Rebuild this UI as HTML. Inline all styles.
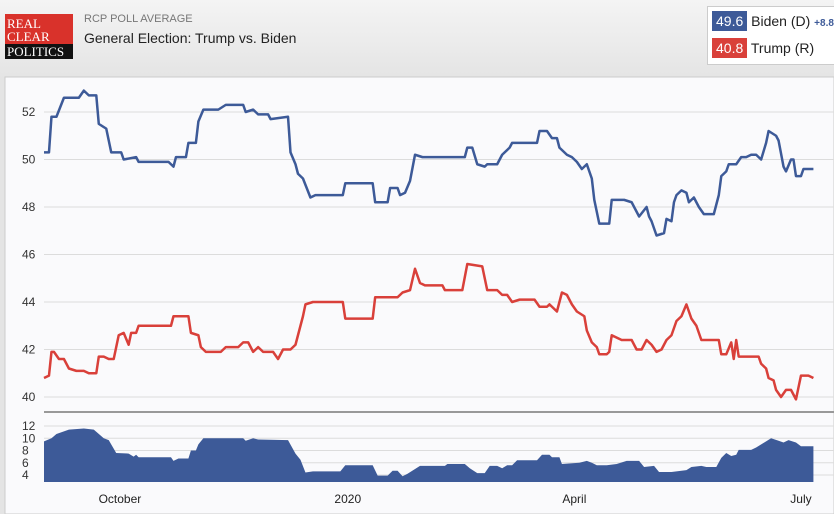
<!DOCTYPE html>
<html><head><meta charset="utf-8"><style>
body{margin:0;width:834px;height:514px;overflow:hidden;font-family:"Liberation Sans",sans-serif;background:linear-gradient(#f4f4f4,#e4e4e4 80px,#e4e4e4);position:relative}
.abs{position:absolute}
</style></head><body>
<div class="abs" style="left:5px;top:14px;width:68px;height:45px;">
 <div style="position:absolute;left:0;top:0;width:68px;height:30px;background:#d9322b;color:#fff;font-family:'Liberation Serif',serif;font-size:13px;line-height:13px;padding:3px 0 0 2px;box-sizing:border-box">REAL<br>CLEAR</div>
 <div style="position:absolute;left:0;top:30px;width:68px;height:15px;background:#111;color:#fff;font-family:'Liberation Serif',serif;font-size:13px;line-height:15px;padding-left:2px;box-sizing:border-box">POLITICS</div>
</div>
<div class="abs" style="left:84px;top:13px;font-size:11px;color:#777">RCP POLL AVERAGE</div>
<div class="abs" style="left:84px;top:30px;font-size:14px;color:#222">General Election: Trump vs. Biden</div>
<div class="abs" style="left:707px;top:6px;width:140px;height:57px;background:#fff;border:1px solid #ccc">
 <div style="position:absolute;left:4px;top:4px;font-size:14px;color:#222;white-space:nowrap"><span style="display:inline-block;background:#3d5a98;color:#fff;padding:2px 4px">49.6</span> Biden (D) <span style="color:#3d5a98;font-size:10px;font-weight:bold">+8.8</span></div>
 <div style="position:absolute;left:4px;top:31px;font-size:14px;color:#222;white-space:nowrap"><span style="display:inline-block;background:#d9403a;color:#fff;padding:2px 4px">40.8</span> Trump (R)</div>
</div>
<svg class="abs" style="left:0;top:0" width="834" height="514">
<rect x="5" y="77" width="829" height="437" fill="#fafafc" stroke="#ccc"/>
<g id="grid"></g><g id="marks"></g><g id="labels"></g>
<line x1="44" x2="834" y1="412" y2="412" stroke="#999" stroke-width="2"/>
</svg>
<script>
const bidenDays=[0,2,3,5,8,14,16,18,21,22,25,27,31,32,37,38,50,52,53,57,58,61,62,64,70,73,80,81,84,86,90,91,98,99,101,102,104,107,109,120,121,132,133,138,139,142,143,145,147,149,152,157,169,170,172,174,177,178,182,184,187,188,198,199,202,204,206,207,210,212,214,216,218,220,221,223,227,228,233,236,238,239,242,243,244,245,246,249,250,252,253,254,256,258,259,261,263,265,269,271,272,274,275,278,280,282,284,286,288,290,291,294,295,297,298,300,301,302,304,305,309];
const bidenVals=[50.3,50.3,51.8,51.8,52.6,52.6,52.9,52.7,52.7,51.5,51.3,50.3,50.3,50.0,50.1,49.9,49.9,49.7,50.1,50.1,50.7,50.7,51.6,52.1,52.1,52.3,52.3,52.0,52.1,51.9,51.9,51.7,51.8,50.3,49.8,49.4,49.2,48.4,48.5,48.5,49.0,49.0,48.2,48.2,48.8,48.8,48.5,48.6,49.1,50.2,50.1,50.1,50.1,50.5,50.5,49.8,49.7,49.8,49.8,50.2,50.5,50.7,50.7,51.2,51.2,50.9,50.9,50.5,50.2,50.1,49.9,49.6,49.8,49.2,48.3,47.3,47.3,48.3,48.3,48.2,47.8,47.6,48.0,47.6,47.4,47.1,46.8,46.9,47.5,47.4,48.2,48.5,48.7,48.6,48.2,48.4,48.0,47.7,47.7,48.5,49.3,49.5,49.8,49.8,50.1,50.1,50.2,50.2,50.0,50.7,51.2,51.0,50.8,49.7,49.5,50.0,50.0,49.3,49.3,49.6,49.6];
const trumpDays=[0,2,3,4,6,8,10,13,16,18,21,22,24,26,28,30,32,34,35,37,38,51,52,58,59,62,63,65,71,73,78,80,82,84,86,88,92,94,96,99,101,102,104,105,108,120,121,132,133,142,144,147,149,151,153,160,161,168,170,176,178,182,184,186,188,191,197,199,202,203,206,208,210,212,214,217,218,220,222,223,226,227,228,230,232,236,238,240,242,244,246,248,250,252,254,256,258,260,262,264,271,272,274,276,277,278,279,287,288,290,291,293,294,296,298,300,302,304,307,309];
const trumpVals=[40.8,40.9,41.9,41.9,41.6,41.6,41.2,41.1,41.1,41.0,41.0,41.7,41.7,41.6,41.6,42.6,42.7,42.2,42.7,42.7,43.0,43.0,43.4,43.4,42.7,42.6,42.1,41.9,41.9,42.1,42.1,42.3,42.3,41.9,42.1,41.9,41.9,41.6,42.0,42.0,42.2,42.6,43.4,43.9,44.0,44.0,43.3,43.3,44.2,44.2,44.4,44.5,45.4,44.8,44.7,44.7,44.5,44.5,45.6,45.5,44.5,44.5,44.3,44.3,44.0,44.1,44.1,43.8,43.8,43.9,43.6,44.4,44.3,43.9,43.6,43.4,42.8,42.3,42.1,41.8,41.8,41.9,42.6,42.5,42.4,42.4,42.0,42.0,42.4,42.2,41.9,42.0,42.4,42.6,43.2,43.4,43.9,43.3,43.0,42.4,42.4,41.8,41.8,42.3,41.6,42.4,41.7,41.7,41.4,41.2,40.8,40.7,40.3,40.0,40.3,40.3,39.9,40.9,40.9,40.8];
const spreadDays=[0,3,5,10,16,20,24,26,29,34,36,37,38,51,52,54,58,59,61,62,64,80,81,84,86,98,101,103,105,108,119,121,132,134,138,140,142,144,146,151,161,162,169,171,174,177,179,182,184,186,188,190,198,200,203,204,207,208,215,218,220,222,226,230,234,239,241,245,247,252,258,260,264,266,270,272,274,276,278,279,284,286,290,292,295,297,299,302,304,309];
const spreadVals=[9.5,10,10.7,11.4,11.6,11.4,10,9.7,7.6,7.5,7,7.3,6.9,6.9,6.3,6.7,6.7,8,8,9,10,10,9.6,10,9.8,9.7,7.5,6.5,4.4,4.6,4.6,5.6,5.6,3.9,3.9,4.7,4.7,3.8,4.2,5.5,5.5,5.8,5.8,5.1,4.3,4.3,5.5,5.5,5.1,5.6,5.6,6.4,6.4,7.3,7.3,6.9,6.9,5.8,6.0,6.3,6.0,5.6,5.6,5.8,6.3,6.3,5.3,5.5,4.5,4.5,4.8,5.3,5.5,5.3,5.3,6.8,7.6,7.1,7.3,8.1,8.1,8.5,9.5,10.0,9.6,9.3,9.7,9.3,8.7,8.7];
const mainTicks=[40,42,44,46,48,50,52];
const spreadTicks=[4,6,8,10,12];
const xTickDays=[30.5,122,213,304];
const xTickLabels=["October","2020","April","July"];

const NS="http://www.w3.org/2000/svg";
const xS=d=>44+d*2.49;
const yM=v=>397-(v-40)*23.75;
const yS=v=>475-(v-4)*6.125;
const SB=482;
function mk(tag,attrs,parent){const e=document.createElementNS(NS,tag);for(const k in attrs)e.setAttribute(k,attrs[k]);document.getElementById(parent).appendChild(e);return e;}
mainTicks.forEach(t=>{
 const l=mk('line',{x1:44,x2:834,y1:yM(t),y2:yM(t),stroke:'#dcdcdc'},'grid');
 
 
 const tx=mk('text',{x:22,y:yM(t)+4,'font-size':12,fill:'#333'},'labels');tx.textContent=t;
 
 
});
spreadTicks.forEach(t=>{
 const l=mk('line',{x1:44,x2:834,y1:yS(t),y2:yS(t),stroke:'#dcdcdc'},'grid');
 
 
 const tx=mk('text',{x:22,y:yS(t)+4,'font-size':12,fill:'#333'},'labels');tx.textContent=t;
 
 
});
xTickDays.forEach((d,i)=>{
 const tx=mk('text',{x:xS(d),y:503,'font-size':12,fill:'#222','text-anchor':'middle'},'labels');tx.textContent=xTickLabels[i];
 
 
});
let sp='M'+xS(spreadDays[0])+','+SB;
spreadDays.forEach((d,i)=>sp+=' L'+xS(d)+','+yS(spreadVals[i]));
sp+=' L'+xS(spreadDays[spreadDays.length-1])+','+SB+' Z';
const a=mk('path',{d:sp,fill:'#3d5a98'},'marks');


function line(days,vals,color,name){
 const d=days.map((x,i)=>(i?'L':'M')+xS(x)+','+yM(vals[i])).join(' ');
 const p=mk('path',{d:d,fill:'none',stroke:color,'stroke-width':2.5,'stroke-linejoin':'round'},'marks');
 
 
}
line(bidenDays,bidenVals,'#3d5a98','biden-line');
line(trumpDays,trumpVals,'#d9403a','trump-line');
</script>
</body></html>
